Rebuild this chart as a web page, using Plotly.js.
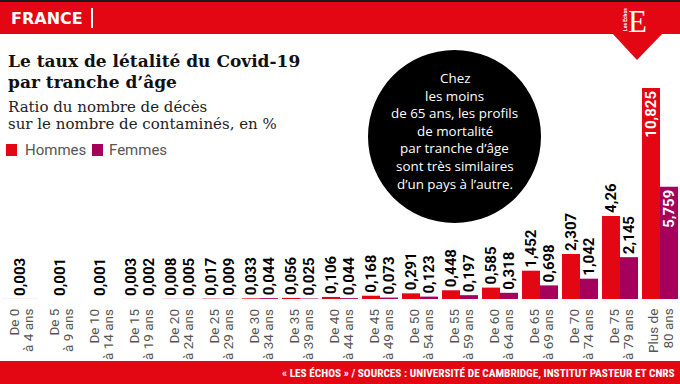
<!DOCTYPE html>
<html>
<head>
<meta charset="utf-8">
<script src="https://cdn.plot.ly/plotly-3.0.1.min.js"></script>
<style>html,body{margin:0;padding:0;background:#fff}#chart{width:680px;height:384px}</style>
</head>
<body>
<div id="chart"></div>
<script>
const ageGroups = ['0-4','5-9','10-14','15-19','20-24','25-29','30-34','35-39','40-44','45-49','50-54','55-59','60-64','65-69','70-74','75-79','80+'];
const tickLine1 = ['De 0','De 5','De 10','De 15','De 20','De 25','De 30','De 35','De 40','De 45','De 50','De 55','De 60','De 65','De 70','De 75','Plus de'];
const tickLine2 = ['à 4 ans','à 9 ans','à 14 ans','à 19 ans','à 24 ans','à 29 ans','à 34 ans','à 39 ans','à 44 ans','à 49 ans','à 54 ans','à 59 ans','à 64 ans','à 69 ans','à 74 ans','à 79 ans','80 ans'];
const hommes = [0.003, 0.001, 0.001, 0.003, 0.008, 0.017, 0.033, 0.056, 0.106, 0.168, 0.291, 0.448, 0.585, 1.452, 2.307, 4.26, 10.825];
const femmes = [0.003, 0.001, 0.001, 0.002, 0.005, 0.009, 0.044, 0.025, 0.044, 0.073, 0.123, 0.197, 0.318, 0.698, 1.042, 2.145, 5.759];
const sharedLabel = [true, true, true, false, false, false, false, false, false, false, false, false, false, false, false, false, false];
const insideLabel = [false, false, false, false, false, false, false, false, false, false, false, false, false, false, false, false, true];

const RED = '#e30613', PURPLE = '#a5005b';
const W = 680, H = 384, MT = 81, MB = 85, PH = H - MT - MB;
const px = x => x / W;
const py = y => (H - MB - y) / PH;
const fmt = v => String(v).replace('.', ',');

const sans = 'Roboto, Arial, sans-serif';
const serif = 'DejaVu Serif, Liberation Serif, serif';
const valueFont = {family: sans, size: 15, color: '#000', weight: 700};
const insideFont = {family: sans, size: 15, color: '#fff', weight: 700};

function barTrace(name, vals, color, offset) {
  return {
    type: 'bar', name: name, x: ageGroups, y: vals,
    marker: {color: color, line: {width: 0}},
    width: 0.45, offset: offset,
    text: vals.map((v, i) => sharedLabel[i] ? '' : fmt(v)),
    textposition: vals.map((v, i) => insideLabel[i] ? 'inside' : 'outside'),
    insidetextanchor: 'end',
    textangle: -90,
    outsidetextfont: valueFont,
    insidetextfont: insideFont,
    constraintext: 'none',
    cliponaxis: false,
    hoverinfo: 'skip', showlegend: false
  };
}

const traces = [
  barTrace('Hommes', hommes, RED, -0.45),
  barTrace('Femmes', femmes, PURPLE, 0),
  {
    type: 'bar', name: 'shared', x: ageGroups,
    y: hommes.map((v, i) => sharedLabel[i] ? Math.max(v, femmes[i]) : null),
    marker: {color: 'rgba(0,0,0,0)'}, width: 0.9, offset: -0.45,
    text: hommes.map((v, i) => sharedLabel[i] ? fmt(v) : ''),
    textposition: 'outside', textangle: -90,
    outsidetextfont: valueFont, constraintext: 'none', cliponaxis: false,
    hoverinfo: 'skip', showlegend: false
  }
];

function ann(text, x, y, opts) {
  return Object.assign({text: text, x: px(x), y: py(y), xref: 'paper', yref: 'paper',
    xanchor: 'left', yanchor: 'middle', showarrow: false}, opts);
}
const circleLines = ['Chez', 'les moins', 'de 65 ans, les profils', 'de mortalité', 'par tranche d’âge', 'sont très similaires', 'd’un pays à l’autre.'];
const tickFont = {family: sans, size: 13.5, color: '#555'};

function tickAnn(text, i, shift) {
  return {text: text, x: ageGroups[i], y: 0, xref: 'x', yref: 'y', xshift: shift, yshift: -8,
    xanchor: 'center', yanchor: 'top', textangle: -90, showarrow: false, font: tickFont};
}

const annotations = [
  ann('FRANCE', 9, 18, {font: {family: 'DejaVu Sans, sans-serif', size: 16, color: '#fff', weight: 700}}),
  ann('Le taux de létalité du Covid-19', 6, 61, {font: {family: serif, size: 17, color: '#111', weight: 700}}),
  ann('par tranche d’âge', 6, 82, {font: {family: serif, size: 17, color: '#111', weight: 700}}),
  ann('Ratio du nombre de décès', 6, 107, {font: {family: serif, size: 15, color: '#222'}}),
  ann('sur le nombre de contaminés, en %', 6, 124, {font: {family: serif, size: 15, color: '#222'}}),
  ann('Hommes', 23, 150, {font: {family: sans, size: 15, color: '#555'}}),
  ann('Femmes', 107, 150, {font: {family: sans, size: 15, color: '#555'}}),
  ann('E', 637, 21, {xanchor: 'center', font: {family: 'Liberation Serif, serif', size: 31, color: '#fff'}}),
  ann('Les Echos', 625, 20, {xanchor: 'center', textangle: -90, font: {family: sans, size: 5, color: '#fff', weight: 700}}),
  ann('« LES ÉCHOS » / SOURCES : UNIVERSITÉ DE CAMBRIDGE, INSTITUT PASTEUR ET CNRS', 677, 373,
      {xanchor: 'right', font: {family: 'Roboto Condensed, Liberation Sans Narrow, Roboto, sans-serif', size: 11.3, color: '#fff', weight: 700}})
].concat(circleLines.map((t, i) => ann(t, 455, 78 + i * 17.6, {xanchor: 'center', font: {family: 'Open Sans, Roboto, sans-serif', size: 13.4, color: '#fff'}})))
 .concat(tickLine1.map((t, i) => tickAnn(t, i, -7)))
 .concat(tickLine2.map((t, i) => tickAnn(t, i, 7.5)));

const rect = (x0, y0, x1, y1, color) => ({type: 'rect', xref: 'paper', yref: 'paper',
  x0: px(x0), x1: px(x1), y0: py(y1), y1: py(y0), fillcolor: color, line: {width: 0}, layer: 'below'});

const shapes = [
  rect(0, 0, 680, 2, '#1a1a1a'),
  rect(0, 2, 680, 34, RED),
  rect(91, 8, 93, 28, '#fff'),
  {type: 'path', xref: 'paper', yref: 'paper', layer: 'below',
   path: `M${px(612)},${py(33)} L${px(663)},${py(33)} L${px(637)},${py(60)} Z`, fillcolor: RED, line: {width: 0}},
  {type: 'circle', xref: 'paper', yref: 'paper', layer: 'below',
   x0: px(368), x1: px(541), y0: py(223), y1: py(50), fillcolor: '#000', line: {width: 0}},
  rect(6, 144, 17, 156, RED),
  rect(92, 144, 103, 156, PURPLE),
  rect(0, 361, 680, 384, RED)
];

const layout = {
  width: W, height: H,
  margin: {l: 0, r: 0, t: MT, b: MB, pad: 0},
  paper_bgcolor: '#fff', plot_bgcolor: 'rgba(0,0,0,0)',
  barmode: 'overlay',
  showlegend: false,
  xaxis: {type: 'category', range: [-0.5, 16.5], showticklabels: false,
    ticks: '', showgrid: false, zeroline: false, showline: false, fixedrange: true},
  yaxis: {range: [0, PH / 19.5], visible: false, showgrid: false, zeroline: false, fixedrange: true},
  annotations: annotations,
  shapes: shapes
};

Plotly.newPlot('chart', traces, layout, {displayModeBar: false, staticPlot: true});
</script>
</body>
</html>
